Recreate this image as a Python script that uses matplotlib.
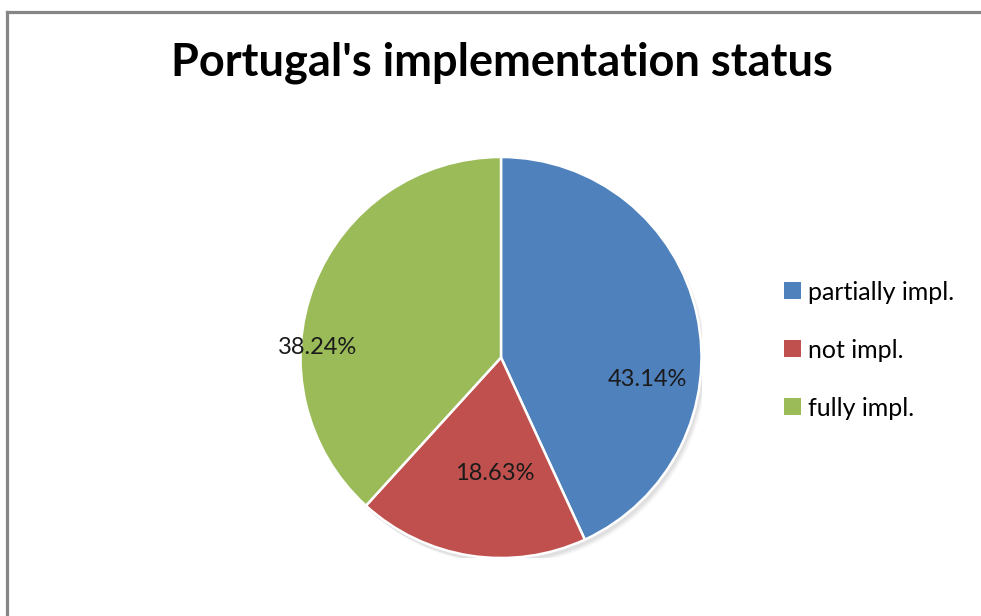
import matplotlib
matplotlib.use("Agg")
import matplotlib.pyplot as plt
from matplotlib.lines import Line2D
from matplotlib.patches import Circle

labels = ["partially impl.", "not impl.", "fully impl."]
values = [43.14, 18.63, 38.24]
colors = ["#4F81BD", "#C0504D", "#9BBB59"]
pct_text = ["43.14%", "18.63%", "38.24%"]
# label positions in pie units (radius = 1)
pct_pos = [(0.728, -0.112), (-0.03, -0.578), (-0.915, 0.052)]

plt.rcParams['font.family'] = ['Lato', 'DejaVu Sans']

fig = plt.figure(figsize=(9.81, 6.16), dpi=100)
fig.patch.set_facecolor("white")

# frame lines (top and left only, rest cropped)
fig.add_artist(Line2D([6.5/981, 1.0], [1 - 11.5/616, 1 - 11.5/616], color="#868686", lw=2.3))
fig.add_artist(Line2D([6.5/981, 6.5/981], [0, 1 - 11.5/616], color="#868686", lw=2.3))

# pie axes: center (501, 357.5), radius 200.5 px
cx, cy, r = 501, 357.5, 200.5
ax = fig.add_axes([(cx - r) / 981, 1 - (cy + r) / 616, 2 * r / 981, 2 * r / 616])

# soft shadow
for i, a in enumerate([0.05, 0.04, 0.03]):
    ax.add_patch(Circle((0.012 + 0.006 * i, -0.02 - 0.006 * i), 1.0, color="black", alpha=a, zorder=0, lw=0))

wedges, _ = ax.pie(values, colors=colors, startangle=90, counterclock=False,
                   radius=1.0, wedgeprops=dict(edgecolor="white", linewidth=1.8))
for w in wedges:
    w.set_zorder(2)
for t, (x, y) in zip(pct_text, pct_pos):
    ax.text(x, y, t, ha="center", va="center", fontsize=17, color="#1a1a1a", zorder=3)
ax.set_xlim(-1, 1)
ax.set_ylim(-1, 1)
ax.set_aspect("equal")
ax.axis("off")

fig.text(502 / 981, 1 - 63 / 616, "Portugal's implementation status", ha="center", va="center",
         fontsize=32.5, fontweight="bold", color="black")

leg = fig.legend(wedges, labels, loc="center left", bbox_to_anchor=(784 / 981, 1 - 350 / 616),
                 frameon=False, fontsize=18, handlelength=0.68, handleheight=0.68,
                 labelspacing=1.4, handletextpad=0.3, borderpad=0, borderaxespad=0)
for h in leg.legend_handles:
    h.set_edgecolor("none")

fig.savefig("out.png", dpi=100)
